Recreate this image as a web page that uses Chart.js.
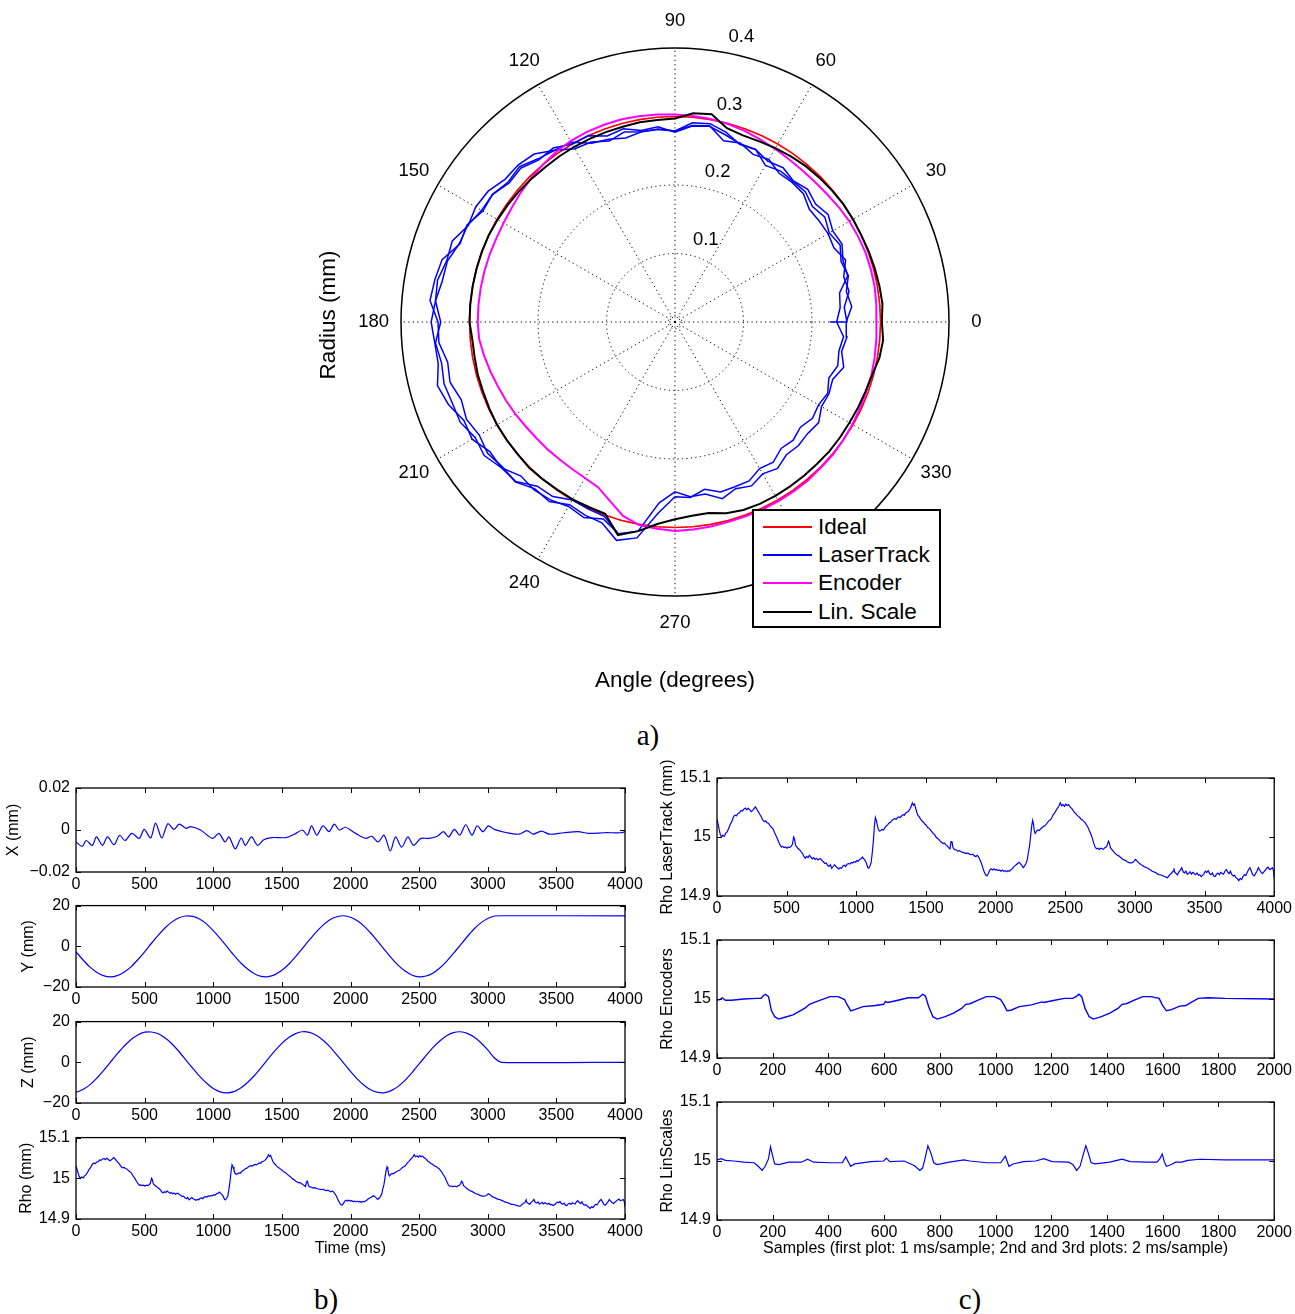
<!DOCTYPE html>
<html>
<head>
<meta charset="utf-8">
<script src="https://cdn.jsdelivr.net/npm/chart.js@4.4.1/dist/chart.umd.min.js"></script>
<style>
  html, body { margin:0; padding:0; background:#ffffff; }
  body { position:relative; width:1295px; height:1314px; overflow:hidden; }
  canvas { position:absolute; }
  .panel { position:absolute; font-family:"Liberation Serif","Times New Roman",serif; font-size:29px; color:#000; transform:translate(-50%,-50%); white-space:nowrap; }
  #legend { position:absolute; z-index:10; left:752px; top:509px; width:185px; height:115px; border:2px solid #000; background:#fff; font-family:"Liberation Sans",Arial,sans-serif; font-size:22.5px; color:#000; }
  #legend .row { position:absolute; left:0; height:28px; width:185px; }
  #legend .sw { position:absolute; left:9px; width:49px; height:2px; top:13px; }
  #legend .tx { position:absolute; left:64px; top:0; line-height:28px; white-space:nowrap; }
</style>
</head>
<body>
<div class="panel" style="left:648px;top:735px;">a)</div>
<div class="panel" style="left:326px;top:1299px;">b)</div>
<div class="panel" style="left:970px;top:1299px;">c)</div>
<div id="legend"></div>
<script>
// ---------------- DATA ----------------
// Polar plot (a): angle in degrees, radius in mm (deviation scale 0..0.4)
const polarAngles = [0,5,10,15,20,25,30,35,40,45,50,55,60,65,70,75,80,85,90,95,100,105,110,115,120,125,130,135,140,145,150,155,160,165,170,175,180,185,190,195,200,205,210,215,220,225,230,235,240,245,250,255,260,265,270,275,280,285,290,295,300,305,310,315,320,325,330,335,340,345,350,355,360];
const idealRadius = [0.3,0.3,0.3,0.3,0.3,0.3,0.3,0.3,0.3,0.3,0.3,0.3,0.3,0.3,0.3,0.3,0.3,0.3,0.3,0.3,0.3,0.3,0.3,0.3,0.3,0.3,0.3,0.3,0.3,0.3,0.3,0.3,0.3,0.3,0.3,0.3,0.3,0.3,0.3,0.3,0.3,0.3,0.3,0.3,0.3,0.3,0.3,0.3,0.3,0.3,0.3,0.3,0.3,0.3,0.3,0.3,0.3,0.3,0.3,0.3,0.3,0.3,0.3,0.3,0.3,0.3,0.3,0.3,0.3,0.3,0.3,0.3,0.3];
const encoderRadius = [0.294,0.295,0.296,0.296,0.296,0.295,0.294,0.292,0.290,0.289,0.289,0.290,0.292,0.294,0.297,0.299,0.301,0.302,0.303,0.304,0.305,0.306,0.306,0.306,0.305,0.303,0.300,0.297,0.294,0.291,0.289,0.288,0.288,0.288,0.288,0.288,0.288,0.287,0.283,0.279,0.275,0.272,0.269,0.266,0.264,0.263,0.262,0.262,0.263,0.266,0.278,0.293,0.301,0.303,0.305,0.304,0.303,0.302,0.302,0.302,0.302,0.302,0.302,0.301,0.301,0.300,0.299,0.298,0.297,0.297,0.296,0.295,0.294];
const linScaleRadius = [0.302,0.304,0.303,0.302,0.301,0.300,0.300,0.300,0.299,0.298,0.297,0.295,0.293,0.291,0.290,0.293,0.308,0.306,0.297,0.296,0.296,0.295,0.295,0.295,0.295,0.295,0.295,0.296,0.297,0.298,0.299,0.300,0.300,0.300,0.300,0.300,0.300,0.297,0.297,0.298,0.298,0.299,0.300,0.300,0.300,0.301,0.300,0.299,0.299,0.298,0.298,0.322,0.310,0.296,0.288,0.284,0.283,0.289,0.292,0.293,0.293,0.293,0.293,0.293,0.294,0.294,0.294,0.295,0.296,0.298,0.303,0.305,0.302];
const laserLoop1 = [0.250,0.259,0.254,0.262,0.258,0.266,0.260,0.267,0.262,0.269,0.268,0.269,0.264,0.278,0.276,0.287,0.294,0.292,0.279,0.283,0.282,0.287,0.281,0.290,0.292,0.306,0.311,0.321,0.318,0.325,0.326,0.334,0.335,0.344,0.345,0.351,0.342,0.351,0.346,0.349,0.346,0.346,0.337,0.340,0.331,0.329,0.313,0.311,0.300,0.301,0.302,0.320,0.310,0.265,0.248,0.256,0.255,0.267,0.259,0.264,0.256,0.261,0.253,0.255,0.253,0.256,0.247,0.248,0.245,0.255,0.247,0.252,0.250];
const laserLoop2 = [0.236,0.242,0.244,0.261,0.261,0.269,0.266,0.273,0.268,0.274,0.269,0.275,0.271,0.278,0.277,0.283,0.290,0.287,0.277,0.286,0.284,0.292,0.289,0.300,0.300,0.310,0.309,0.318,0.316,0.325,0.324,0.335,0.334,0.352,0.356,0.359,0.346,0.346,0.337,0.340,0.332,0.336,0.330,0.334,0.329,0.330,0.318,0.320,0.308,0.311,0.312,0.330,0.320,0.280,0.255,0.257,0.248,0.257,0.256,0.256,0.247,0.250,0.241,0.244,0.239,0.245,0.242,0.246,0.239,0.246,0.243,0.247,0.236];
const laserLoop3 = [0.251,0.248,0.258,0.255,0.265,0.256,0.258,0.257,0.256,0.265,0.266,0.265,0.274,0.270,0.278,0.274,0.291,0.288,0.279,0.282,0.282,0.278,0.284,0.288,0.303,0.306,0.320,0.324,0.324,0.333,0.336,0.333,0.346,0.345,0.352,0.351,0.356,0.352,0.351,0.359,0.352,0.340,0.342,0.330,0.331,0.318,0.320,0.317,0.311,0.315,0.306,0.320];
const laserHoldRadius = [0.249,0.236,0.246,0.232,0.244,0.226,0.248,0.234,0.252,0.238,0.229,0.247];
const polarRingTicks = [0.1,0.2,0.3,0.4];
const polarRingLabels = ['0.1','0.2','0.3','0.4'];
const polarSpokeAngles = [0,30,60,90,120,150,180,210,240,270,300,330];
const polarSpokeLabels = ['0','30','60','90','120','150','180','210','240','270','300','330'];
const legendLabels = ['Ideal','LaserTrack','Encoder','Lin. Scale'];
const seriesColors = ['#ff0000','#0000ff','#ff00ff','#000000'];

// (b) time series, time in ms
const xTime = [0,45,74,119,149,193,229,277,318,357,407,461,497,544,580,625,669,714,752,803,833,907,996,1041,1086,1115,1160,1204,1234,1279,1323,1368,1427,1531,1591,1650,1686,1716,1755,1799,1844,1882,1918,1963,2037,2111,2156,2201,2245,2290,2328,2373,2418,2459,2513,2572,2632,2677,2715,2757,2796,2840,2885,2923,2965,3004,3048,3137,3227,3286,3331,3390,3450,3554,3658,3732,3851,3970,4000];
const xValue = [-0.0057,-0.0078,-0.005,-0.0073,-0.0033,-0.0073,-0.0033,-0.007,-0.0025,-0.005,-0.0016,-0.004,0.0003,-0.0038,0.0033,-0.0038,0.003,0.0003,0.0028,0.0008,0.0016,0,-0.004,-0.0016,-0.0057,-0.0033,-0.009,-0.0038,-0.0073,-0.0033,-0.0073,-0.0046,-0.0036,-0.0036,-0.002,0,-0.0025,0.002,-0.0025,0.002,-0.0008,0.0028,0,0.0013,-0.0016,-0.004,-0.003,-0.0057,-0.0025,-0.01,-0.0033,-0.0082,-0.0033,-0.0073,-0.004,-0.004,-0.003,-0.0008,-0.0033,0.0003,-0.0025,0.0025,-0.0025,0.002,-0.0008,0.002,0.0003,-0.0013,-0.002,-0.0003,-0.002,-0.0005,-0.002,-0.0013,-0.0008,-0.0016,-0.0013,-0.0013,-0.0008];
const yzTime = [0,50,100,150,200,250,300,350,400,450,500,550,600,650,700,750,800,850,900,950,1000,1050,1100,1150,1200,1250,1300,1350,1400,1450,1500,1550,1600,1650,1700,1750,1800,1850,1900,1950,2000,2050,2100,2150,2200,2250,2300,2350,2400,2450,2500,2550,2600,2650,2700,2750,2800,2850,2900,2950,3000,3050,3100,4000];
const yValue = [-2.7,-6.6,-10.1,-12.7,-14.4,-15,-14.4,-12.7,-10.1,-6.6,-2.7,1.5,5.5,9.1,12.0,14.0,14.9,14.7,13.4,11.0,7.7,3.9,-0.2,-4.3,-8.1,-11.2,-13.5,-14.8,-14.9,-13.9,-11.8,-8.8,-5.1,-1.0,3.1,7.0,10.4,13.0,14.5,15.0,14.3,12.5,9.8,6.3,2.3,-1.9,-5.9,-9.5,-12.3,-14.2,-15.0,-14.6,-13.2,-10.7,-7.4,-3.5,0.6,4.7,8.5,11.5,13.7,14.9,15,15];
const zValue = [-14.8,-13.4,-11.1,-7.9,-4.1,0,4.1,7.9,11.1,13.4,14.8,14.9,14.0,11.9,9.0,5.3,1.2,-2.9,-6.8,-10.2,-12.9,-14.5,-15.0,-14.4,-12.6,-9.9,-6.5,-2.5,1.7,5.7,9.3,12.2,14.1,15.0,14.7,13.3,10.8,7.6,3.7,-0.4,-4.5,-8.3,-11.4,-13.6,-14.8,-14.9,-13.8,-11.7,-8.6,-4.9,-0.8,3.3,7.2,10.5,13.1,14.6,15.0,14.2,12.4,9.6,6.1,2.1,0,0];
const rhoLaserTime = [
0,8,16,24,32,42,52,62,74,86,
96,106,118,128,140,150,162,172,182,192,
204,214,224,236,246,256,266,276,286,296,
306,318,328,339,350,360,370,382,392,402,
412,422,432,442,452,462,472,482,492,502,
512,522,532,542,550,556,564,574,584,594,
604,614,624,634,644,654,664,674,684,694,
704,714,724,734,744,754,764,774,784,794,
804,814,824,834,844,854,864,874,884,894,
904,914,924,934,944,954,964,974,984,994,
1004,1014,1024,1034,1044,1054,1064,1074,1082,1090,
1098,1106,1114,1122,1130,1137,1144,1151,1158,1166,
1176,1186,1196,1206,1216,1226,1236,1246,1256,1266,
1276,1286,1296,1306,1316,1326,1336,1346,1356,1366,
1376,1386,1394,1402,1410,1418,1426,1434,1442,1452,
1462,1472,1482,1492,1502,1512,1522,1532,1542,1552,
1562,1572,1582,1592,1602,1612,1622,1632,1642,1652,
1662,1672,1680,1686,1694,1704,1716,1728,1740,1752,
1764,1776,1788,1800,1812,1824,1836,1848,1858,1868,
1878,1888,1898,1908,1918,1928,1938,1948,1958,1968,
1978,1988,1998,2008,2018,2028,2038,2048,2058,2068,
2078,2088,2098,2108,2118,2128,2138,2148,2158,2168,
2178,2188,2198,2208,2218,2228,2236,2244,2252,2260,
2266,2272,2278,2284,2294,2304,2314,2324,2334,2344,
2354,2364,2374,2384,2394,2404,2414,2424,2434,2444,
2454,2464,2474,2484,2494,2504,2514,2524,2534,2544,
2554,2564,2574,2584,2594,2604,2614,2624,2634,2644,
2654,2664,2674,2684,2694,2704,2714,2724,2734,2744,
2754,2764,2774,2784,2794,2802,2810,2816,2824,2834,
2844,2854,2864,2874,2884,2894,2904,2914,2924,2934,
2944,2954,2964,2974,2984,2994,3004,3014,3024,3034,
3044,3054,3064,3074,3084,3094,3104,3114,3124,3134,
3144,3154,3164,3174,3184,3194,3204,3214,3224,3234,
3244,3254,3264,3274,3280,3286,3296,3306,3316,3326,
3336,3346,3356,3366,3376,3386,3396,3406,3416,3426,
3436,3446,3456,3466,3476,3486,3496,3506,3516,3526,
3536,3546,3556,3566,3576,3586,3596,3606,3616,3626,
3636,3646,3656,3666,3676,3686,3696,3706,3716,3726,
3736,3746,3756,3766,3776,3786,3796,3806,3816,3826,
3836,3846,3856,3866,3876,3886,3896,3906,3916,3926,
3936,3946,3956,3966,3976,3986,3994,4000];
const rhoLaserValue = [
15.030,15.022,15.012,15.004,15.000,15.003,15.001,15.006,15.009,15.016,
15.022,15.026,15.034,15.037,15.036,15.040,15.041,15.045,15.044,15.047,
15.049,15.046,15.049,15.046,15.043,15.045,15.048,15.051,15.047,15.043,
15.039,15.034,15.029,15.026,15.027,15.024,15.023,15.019,15.016,15.014,
15.008,15.003,14.998,14.992,14.987,14.983,14.984,14.982,14.983,14.981,
14.983,14.982,14.984,14.988,15.000,14.997,14.986,14.983,14.980,14.978,
14.975,14.972,14.967,14.964,14.967,14.965,14.969,14.966,14.963,14.965,
14.962,14.964,14.961,14.963,14.963,14.960,14.958,14.955,14.956,14.952,
14.950,14.953,14.947,14.950,14.953,14.950,14.948,14.946,14.948,14.947,
14.951,14.952,14.950,14.954,14.955,14.954,14.957,14.956,14.958,14.957,
14.960,14.959,14.962,14.963,14.966,14.963,14.960,14.955,14.948,14.947,
14.951,14.956,14.972,14.992,15.018,15.033,15.028,15.020,15.013,15.010,
15.011,15.013,15.012,15.016,15.019,15.021,15.024,15.025,15.028,15.030,
15.031,15.030,15.033,15.034,15.033,15.036,15.038,15.037,15.041,15.042,
15.044,15.048,15.052,15.058,15.054,15.056,15.049,15.042,15.037,15.034,
15.030,15.027,15.025,15.022,15.020,15.016,15.015,15.012,15.009,15.006,
15.004,15.000,14.998,14.996,14.993,14.991,14.989,14.990,14.987,14.985,
14.982,14.980,14.992,14.993,14.982,14.979,14.978,14.976,14.977,14.975,
14.974,14.973,14.972,14.973,14.971,14.970,14.971,14.968,14.967,14.969,
14.966,14.961,14.956,14.948,14.941,14.936,14.934,14.938,14.944,14.946,
14.944,14.946,14.944,14.945,14.943,14.944,14.942,14.944,14.942,14.943,
14.941,14.943,14.942,14.944,14.946,14.949,14.951,14.953,14.955,14.957,
14.955,14.952,14.948,14.951,14.955,14.962,14.975,14.985,15.003,15.020,
15.028,15.022,15.010,15.006,15.010,15.012,15.011,15.014,15.016,15.018,
15.019,15.022,15.025,15.028,15.029,15.033,15.038,15.041,15.045,15.049,
15.052,15.058,15.053,15.055,15.052,15.056,15.053,15.055,15.051,15.049,
15.046,15.042,15.040,15.037,15.035,15.033,15.030,15.029,15.026,15.024,
15.020,15.016,15.010,15.005,14.998,14.990,14.983,14.980,14.981,14.979,
14.981,14.980,14.979,14.982,14.983,14.987,14.993,14.990,14.982,14.979,
14.976,14.973,14.971,14.969,14.968,14.966,14.964,14.962,14.961,14.960,
14.958,14.957,14.956,14.956,14.957,14.959,14.962,14.960,14.957,14.955,
14.953,14.952,14.950,14.949,14.948,14.947,14.945,14.944,14.942,14.941,
14.940,14.939,14.937,14.936,14.936,14.935,14.934,14.933,14.932,14.931,
14.934,14.937,14.939,14.942,14.947,14.940,14.938,14.936,14.941,14.944,
14.948,14.941,14.939,14.942,14.937,14.938,14.941,14.937,14.940,14.938,
14.936,14.939,14.935,14.936,14.933,14.935,14.938,14.942,14.940,14.943,
14.938,14.936,14.939,14.934,14.933,14.937,14.939,14.936,14.940,14.938,
14.937,14.942,14.945,14.941,14.938,14.942,14.936,14.934,14.935,14.931,
14.929,14.926,14.930,14.928,14.933,14.936,14.935,14.940,14.945,14.948,
14.942,14.936,14.934,14.938,14.942,14.948,14.944,14.940,14.938,14.941,
14.944,14.947,14.949,14.945,14.946,14.948,14.944,14.930];

// (c) samples at 2 ms/sample
const encSample = [0,10,19,30,52,96,140,158,167,174,185,195,207,221,244,273,303,317,332,347,376,406,435,458,465,480,494,524,568,598,605,613,642,686,723,731,738,748,760,775,790,819,849,878,893,908,937,967,996,1018,1029,1041,1055,1085,1129,1166,1173,1203,1247,1277,1291,1299,1309,1321,1336,1351,1380,1410,1439,1454,1469,1498,1528,1557,1587,1598,1613,1631,1661,1683,1705,1727,1764,1823,2000];
const encValue = [14.998,14.999,15.002,14.998,14.998,15.0,15.001,15.001,15.006,15.008,15.004,14.981,14.970,14.966,14.969,14.973,14.981,14.985,14.991,14.994,14.999,15.004,15.004,14.999,14.992,14.980,14.982,14.987,14.989,14.991,14.996,14.994,14.997,15.002,15.002,15.005,15.008,15.005,14.987,14.970,14.966,14.970,14.976,14.984,14.991,14.992,14.998,15.004,15.004,14.999,14.991,14.980,14.981,14.987,14.990,14.995,14.994,14.997,15.001,15.001,15.005,15.008,15.004,14.984,14.970,14.966,14.970,14.976,14.984,14.991,14.992,14.998,15.004,15.004,15.001,14.990,14.980,14.982,14.988,14.989,14.995,15.001,15.002,15.001,15.0];
const linSample = [0,15,30,60,96,133,148,162,173,185,192,199,207,221,258,303,325,347,406,450,462,472,480,494,553,598,608,620,672,709,728,738,748,757,768,778,790,834,886,908,967,1018,1029,1035,1041,1048,1063,1100,1144,1173,1203,1262,1277,1291,1303,1314,1324,1333,1343,1358,1410,1454,1483,1543,1579,1590,1598,1606,1613,1631,1646,1668,1690,1734,1823,2000];
const linValue = [15.002,15.004,15.001,15.0,14.998,14.997,14.991,14.984,14.991,15.004,15.024,15.010,14.995,14.994,14.998,14.998,15.003,14.998,14.997,14.997,15.007,14.998,14.991,14.995,14.999,15.0,15.005,14.999,15.0,14.992,14.984,14.988,15.007,15.026,15.013,14.997,14.994,14.998,15.002,15.0,14.997,14.997,15.004,15.008,15.0,14.991,14.995,14.999,15.0,15.004,14.999,14.998,14.994,14.984,14.991,15.010,15.026,15.013,14.997,14.995,14.998,15.003,14.999,14.998,14.998,15.004,15.012,14.998,14.991,14.994,14.998,14.998,15.001,15.003,15.002,15.002];

// tick values / labels
const timeTicks = [0,500,1000,1500,2000,2500,3000,3500,4000];
const timeTickLabels = ['0','500','1000','1500','2000','2500','3000','3500','4000'];
const sampleTicks = [0,200,400,600,800,1000,1200,1400,1600,1800,2000];
const sampleTickLabels = ['0','200','400','600','800','1000','1200','1400','1600','1800','2000'];
const xAxisTicks = [-0.02,0,0.02];
const xAxisTickLabels = ['\u22120.02','0','0.02'];
const posTicks = [-20,0,20];
const posTickLabels = ['\u221220','0','20'];
const rhoTicks = [14.9,15,15.1];
const rhoTickLabels = ['14.9','15','15.1'];

// ---------------- RENDERING ----------------
const SANS = '"Liberation Sans", Arial, Helvetica, sans-serif';
Chart.defaults.font.family = SANS;
Chart.defaults.color = '#000';

function addCanvas(left, top, w, h) {
  const cv = document.createElement('canvas');
  cv.width = w; cv.height = h;
  cv.style.left = left + 'px'; cv.style.top = top + 'px';
  cv.style.width = w + 'px'; cv.style.height = h + 'px';
  document.body.appendChild(cv);
  return cv;
}

// legend
(function(){
  const lg = document.getElementById('legend');
  const tops = [2,30,58,87];
  legendLabels.forEach((t,i)=>{
    const row = document.createElement('div'); row.className='row'; row.style.top = tops[i]+'px';
    const sw = document.createElement('div'); sw.className='sw'; sw.style.background = seriesColors[i];
    const tx = document.createElement('div'); tx.className='tx'; tx.textContent = t;
    row.appendChild(sw); row.appendChild(tx); lg.appendChild(row);
  });
})();

const matlabBox = {
  id:'matlabBox',
  afterDatasetsDraw(chart){
    const {ctx, chartArea:a, scales:{x, y}} = chart;
    ctx.save();
    ctx.strokeStyle = '#000'; ctx.lineWidth = 1.3;
    ctx.strokeRect(a.left, a.top, a.right - a.left, a.bottom - a.top);
    const tl = 5;
    ctx.lineWidth = 1;
    ctx.beginPath();
    x.ticks.forEach(t=>{
      const px = Math.round(x.getPixelForValue(t.value)) + 0.5;
      ctx.moveTo(px, a.bottom); ctx.lineTo(px, a.bottom - tl);
      ctx.moveTo(px, a.top); ctx.lineTo(px, a.top + tl);
    });
    y.ticks.forEach(t=>{
      const py = Math.round(y.getPixelForValue(t.value)) + 0.5;
      ctx.moveTo(a.left, py); ctx.lineTo(a.left + tl, py);
      ctx.moveTo(a.right, py); ctx.lineTo(a.right - tl, py);
    });
    ctx.stroke();
    ctx.restore();
  }
};

function seriesChart(o) {
  const cv = addCanvas(o.cx, o.cy, o.cw, o.ch);
  const yW = o.box.l - o.cx;
  const xH = o.cy + o.ch - o.box.b;
  const pts = o.t.map((t,i)=>({x:t, y:o.v[i]}));
  return new Chart(cv, {
    type:'line',
    data:{datasets:[{data:pts, borderColor:'#0000ff', borderWidth:o.lw || 1.2, pointRadius:0, tension:o.tension || 0, fill:false}]},
    options:{
      responsive:false, animation:false, devicePixelRatio:1, events:[],
      layout:{padding:{left:0, top:o.box.t - o.cy, right:o.cx + o.cw - o.box.r, bottom:0}},
      plugins:{legend:{display:false}, tooltip:{enabled:false}},
      scales:{
        x:{type:'linear', position:'bottom', min:o.xTicks[0], max:o.xTicks[o.xTicks.length-1],
          afterBuildTicks:s=>{ s.ticks = o.xTicks.map(v=>({value:v})); },
          afterFit:s=>{ s.height = xH; },
          ticks:{autoSkip:false, maxRotation:0, minRotation:0, padding:3, font:{size:16}, color:'#000', callback:(v,i)=>o.xLabels[i]},
          grid:{display:false, drawTicks:false}, border:{display:false},
          title: o.xTitle ? {display:true, text:o.xTitle, color:'#000', font:{size:16}, padding:{top:0, bottom:(o.cy + o.ch) - o.xTitleY - 9.6}} : {display:false}
        },
        y:{type:'linear', position:'left', min:o.yTicks[0], max:o.yTicks[o.yTicks.length-1],
          afterBuildTicks:s=>{ s.ticks = o.yTicks.map(v=>({value:v})); },
          afterFit:s=>{ s.width = yW; },
          ticks:{autoSkip:false, padding:6, font:{size:16}, color:'#000', callback:(v,i)=>o.yLabels[i]},
          grid:{display:false, drawTicks:false}, border:{display:false},
          title:{display:true, text:o.yTitle, color:'#000', font:{size:16}, padding:{top:o.yTitleX - o.cx - 9.6, bottom:0}}
        }
      }
    },
    plugins:[matlabBox]
  });
}

// (b) panels
seriesChart({cx:0, cy:770, cw:650, ch:128, box:{l:76,t:788,r:625,b:872}, t:xTime, v:xValue, tension:0.3,
  xTicks:timeTicks, xLabels:timeTickLabels, yTicks:xAxisTicks, yLabels:xAxisTickLabels, yTitle:'X (mm)', yTitleX:14});
seriesChart({cx:0, cy:890, cw:650, ch:124, box:{l:76,t:904,r:625,b:987}, t:yzTime, v:yValue, tension:0.2,
  xTicks:timeTicks, xLabels:timeTickLabels, yTicks:posTicks, yLabels:posTickLabels, yTitle:'Y (mm)', yTitleX:29});
seriesChart({cx:0, cy:1006, cw:650, ch:124, box:{l:76,t:1020,r:625,b:1103}, t:yzTime, v:zValue, tension:0.2,
  xTicks:timeTicks, xLabels:timeTickLabels, yTicks:posTicks, yLabels:posTickLabels, yTitle:'Z (mm)', yTitleX:29});
seriesChart({cx:0, cy:1122, cw:650, ch:140, box:{l:76,t:1136,r:625,b:1219}, t:rhoLaserTime, v:rhoLaserValue,
  xTicks:timeTicks, xLabels:timeTickLabels, yTicks:rhoTicks, yLabels:rhoTickLabels, yTitle:'Rho (mm)', yTitleX:27,
  xTitle:'Time (ms)', xTitleY:1249});

// (c) panels
seriesChart({cx:650, cy:760, cw:645, ch:160, box:{l:717,t:778,r:1275,b:896}, t:rhoLaserTime, v:rhoLaserValue,
  xTicks:timeTicks, xLabels:timeTickLabels, yTicks:rhoTicks, yLabels:rhoTickLabels, yTitle:'Rho LaserTrack (mm)', yTitleX:668});
seriesChart({cx:650, cy:922, cw:645, ch:160, box:{l:717,t:940,r:1275,b:1058}, t:encSample, v:encValue, lw:1.4,
  xTicks:sampleTicks, xLabels:sampleTickLabels, yTicks:rhoTicks, yLabels:rhoTickLabels, yTitle:'Rho Encoders', yTitleX:668});
seriesChart({cx:650, cy:1084, cw:645, ch:180, box:{l:717,t:1102,r:1275,b:1220}, t:linSample, v:linValue,
  xTicks:sampleTicks, xLabels:sampleTickLabels, yTicks:rhoTicks, yLabels:rhoTickLabels, yTitle:'Rho LinScales', yTitleX:668,
  xTitle:'Samples (first plot: 1 ms/sample; 2nd and 3rd plots: 2 ms/sample)', xTitleY:1249});

// (a) polar plot
function polarPoints(angles, radii) {
  return radii.map((r,i)=>({x: r*Math.cos(angles[i]*Math.PI/180), y: r*Math.sin(angles[i]*Math.PI/180)}));
}
const rMax = polarRingTicks[polarRingTicks.length-1];
const polarGrid = {
  id:'polarGrid',
  beforeDatasetsDraw(chart){
    const {ctx, scales:{x, y}} = chart;
    const cx = x.getPixelForValue(0), cy = y.getPixelForValue(0);
    const R = x.getPixelForValue(rMax) - cx;
    ctx.save();
    ctx.strokeStyle = '#000'; ctx.lineWidth = 1; ctx.setLineDash([1.2, 3.3]);
    polarRingTicks.forEach(rv=>{
      if (rv < rMax) { ctx.beginPath(); ctx.arc(cx, cy, x.getPixelForValue(rv) - cx, 0, Math.PI*2); ctx.stroke(); }
    });
    ctx.beginPath(); ctx.arc(cx, cy, x.getPixelForValue(0.01) - cx, 0, Math.PI*2); ctx.stroke();
    polarSpokeAngles.forEach(a=>{
      const ang = a*Math.PI/180;
      ctx.beginPath(); ctx.moveTo(cx, cy);
      ctx.lineTo(x.getPixelForValue(rMax*Math.cos(ang)), y.getPixelForValue(rMax*Math.sin(ang)));
      ctx.stroke();
    });
    ctx.setLineDash([]); ctx.lineWidth = 1.5;
    ctx.beginPath(); ctx.arc(cx, cy, R, 0, Math.PI*2); ctx.stroke();
    ctx.restore();
  },
  afterDraw(chart){
    const {ctx, scales:{x, y}} = chart;
    const cx = x.getPixelForValue(0), cy = y.getPixelForValue(0);
    ctx.save();
    ctx.fillStyle = '#000';
    ctx.font = '18.5px ' + SANS;
    ctx.textAlign = 'center'; ctx.textBaseline = 'middle';
    polarSpokeAngles.forEach((a,i)=>{
      const ang = a*Math.PI/180, rr = rMax*1.1;
      ctx.fillText(polarSpokeLabels[i], x.getPixelForValue(rr*Math.cos(ang)), y.getPixelForValue(rr*Math.sin(ang)));
    });
    ctx.textAlign = 'left';
    const la = 80*Math.PI/180;
    polarRingTicks.forEach((rv,i)=>{
      const px = x.getPixelForValue(rv*Math.cos(la)), py = y.getPixelForValue(rv*Math.sin(la));
      ctx.fillText(polarRingLabels[i], px + 6, py - 15);
    });
    ctx.font = '22.5px ' + SANS;
    ctx.textAlign = 'center';
    ctx.fillText('Angle (degrees)', cx, 681);
    ctx.translate(29, 315); ctx.rotate(-Math.PI/2);
    ctx.fillText('Radius (mm)', 0, 0);
    ctx.restore();
  }
};
const pcv = addCanvas(300, 0, 720, 720);
const loopStyle = {borderColor:seriesColors[1], borderWidth:1.5, pointRadius:0, fill:false, tension:0, order:3};
new Chart(pcv, {
  type:'line',
  data:{datasets:[
    {label:legendLabels[0], data:polarPoints(polarAngles, idealRadius), borderColor:seriesColors[0], borderWidth:1.6, pointRadius:0, fill:false, order:4},
    Object.assign({label:legendLabels[1], data:polarPoints(polarAngles, laserLoop1)}, loopStyle),
    Object.assign({label:legendLabels[1], data:polarPoints(polarAngles, laserLoop2)}, loopStyle),
    Object.assign({label:legendLabels[1], data:polarPoints(polarAngles.slice(0, laserLoop3.length), laserLoop3)}, loopStyle),
    Object.assign({label:legendLabels[1], data:polarPoints(laserHoldRadius.map(()=>0), laserHoldRadius)}, loopStyle),
    {label:legendLabels[2], data:polarPoints(polarAngles, encoderRadius), borderColor:seriesColors[2], borderWidth:2, pointRadius:0, fill:false, order:2},
    {label:legendLabels[3], data:polarPoints(polarAngles, linScaleRadius), borderColor:seriesColors[3], borderWidth:2, pointRadius:0, fill:false, order:1}
  ]},
  options:{
    responsive:false, animation:false, devicePixelRatio:1, events:[],
    layout:{padding:{left:101, top:48, right:71, bottom:124}},
    plugins:{legend:{display:false}, tooltip:{enabled:false}},
    scales:{
      x:{type:'linear', min:-rMax, max:rMax, display:false},
      y:{type:'linear', min:-rMax, max:rMax, display:false}
    }
  },
  plugins:[polarGrid]
});
</script>
</body>
</html>
